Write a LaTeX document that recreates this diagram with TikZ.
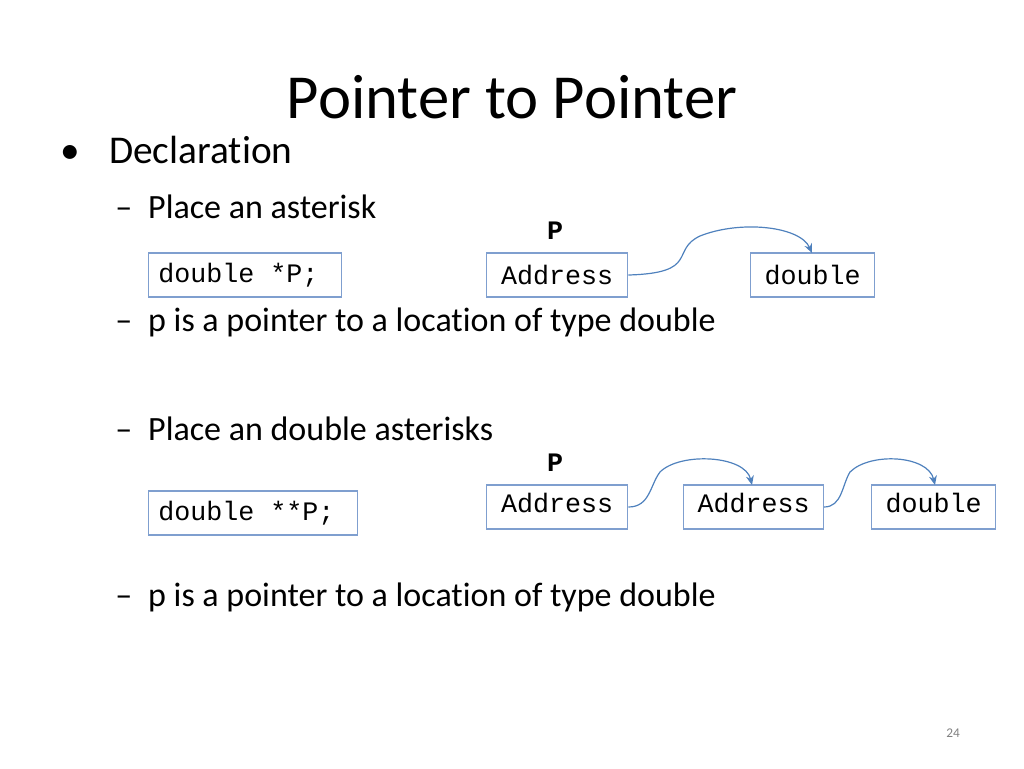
\documentclass[tikz,border=0pt]{standalone}
\usepackage{fontspec}
\setmainfont[Ligatures=NoCommon]{Carlito}
\setmonofont{Liberation Mono}
\usetikzlibrary{arrows.meta}
\definecolor{boxc}{HTML}{7F9FCF}
\definecolor{arrc}{HTML}{4F81BD}
\tikzset{
  mbox/.style={draw=boxc, line width=0.8pt, inner sep=0pt, anchor=west, minimum height=33pt},
  mtxt/.style={font=\ttfamily\fontsize{20}{22}\selectfont, inner sep=0pt},
  ptr/.style={draw=arrc, line width=0.9pt, -{Stealth[length=7pt,width=6pt]}},
  txt/.style={anchor=west, inner sep=0pt, font=\fontsize{25.5}{30}\selectfont},
}
\begin{document}
\begin{tikzpicture}[x=0.75pt,y=-0.75pt]
\useasboundingbox (0,0) rectangle (1024,768);
\node (title) at (512,97) {\fontsize{47}{52}\selectfont Pointer to Pointer};
\node[txt,font=\fontsize{29.5}{34}\selectfont] (b1) at (60,150) {•\hspace{22pt}Declaration};
\node[txt] (s1) at (115,207) {–\hspace{12pt}Place an asterisk};
\node[txt] (s2) at (115,322) {–\hspace{12pt}p is a pointer to a location of type double};
\node[txt] (s3) at (115,429) {–\hspace{12pt}Place an double asterisks};
\node[txt] (s4) at (115,597) {–\hspace{12pt}p is a pointer to a location of type double};
% first diagram
\node[mbox, minimum width=145pt] (d1) at (148,275) {};
\node[mtxt, anchor=west] at (158,275) {double *P;};
\node[mtxt, font=\ttfamily\bfseries\fontsize{20}{22}\selectfont] (p1) at (555,231) {P};
\node[mbox, minimum width=106pt] (a1) at (486,275) {};
\node[mtxt] at (a1.center) {Address};
\node[mbox, minimum width=93pt] (v1) at (750,275) {};
\node[mtxt] at (v1.center) {double};
\draw[ptr] (a1.east) .. controls (700,273) and (670,250) .. (700,236)
  .. controls (740,220) and (800,226) .. (812,253);
% second diagram
\node[mbox, minimum width=157pt] (d2) at (148,513) {};
\node[mtxt, anchor=west] at (158,513) {double **P;};
\node[mtxt, font=\ttfamily\bfseries\fontsize{20}{22}\selectfont] (p2) at (555,463) {P};
\node[mbox, minimum width=106pt] (a2) at (486,507) {};
\node[mtxt] at ([yshift=3pt]a2.center) {Address};
\node[mbox, minimum width=105pt] (a3) at (683,507) {};
\node[mtxt] at ([yshift=3pt]a3.center) {Address};
\node[mbox, minimum width=93pt] (v2) at (871,507) {};
\node[mtxt] at ([yshift=3pt]v2.center) {double};
\draw[ptr] (a2.east) .. controls (650,507) and (650,485) .. (660,472)
  .. controls (680,452) and (745,455) .. (752,485);
\draw[ptr] (a3.east) .. controls (842,507) and (842,485) .. (850,472)
  .. controls (870,452) and (928,455) .. (935,485);
\node[text=gray, font=\fontsize{10}{12}\selectfont] (pg) at (953,733) {24};
\end{tikzpicture}
\end{document}
